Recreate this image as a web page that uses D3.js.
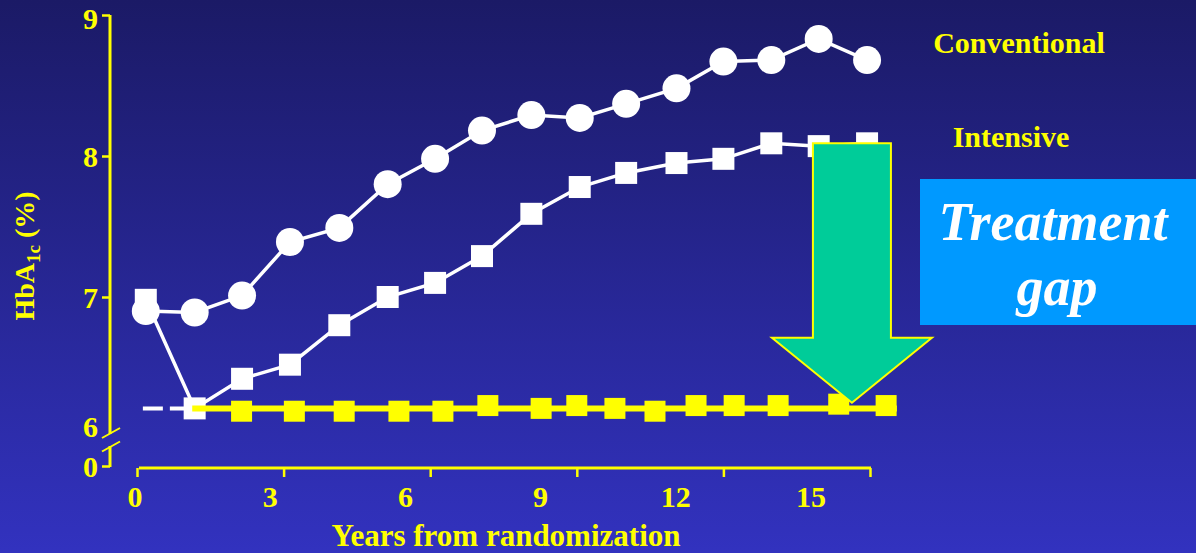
<!DOCTYPE html>
<meta charset="utf-8">

<!-- Load d3.js -->
<script src="https://d3js.org/d3.v7.min.js"></script>

<style>
  body { margin: 0; background: #1b1a68; }
  svg { display: block; }
  text { font-family: "Liberation Serif", "Times New Roman", serif; font-weight: bold; }
</style>

<!-- Create a div where the graph will take place -->
<div id="my_dataviz"></div>

<script>

    // data
    var years = [0.18, 1.18, 2.15, 3.13, 4.14, 5.13, 6.1, 7.06, 8.07, 9.06, 10.01, 11.04, 12.0, 12.98, 13.95, 14.94];
    var conventional = [6.9, 6.89, 7.01, 7.39, 7.49, 7.8, 7.98, 8.18, 8.29, 8.27, 8.37, 8.48, 8.67, 8.68, 8.83, 8.68];
    var intensive = [6.98, 6.21, 6.42, 6.52, 6.8, 7.0, 7.1, 7.29, 7.59, 7.78, 7.88, 7.95, 7.98, 8.09, 8.07, 8.09];

    // the yellow "normal" line
    var normalYears = [2.14, 3.22, 4.24, 5.36, 6.26, 7.18, 8.27, 9.0, 9.78, 10.6, 11.44, 12.22, 13.12, 14.36, 15.33];
    var normalValues = [6.19, 6.19, 6.19, 6.19, 6.19, 6.23, 6.21, 6.23, 6.21, 6.19, 6.23, 6.23, 6.23, 6.24, 6.23];
    var normalLevel = 6.21;
    var normalSpan = [1.13, 15.55];
    var leadInSpan = [0.12, 1.1];

    // axes
    var xTicks = [0, 3, 6, 9, 12, 15];
    var yTicks = [9, 8, 7, 6, 0];

    // labels / annotation
    var seriesNames = ["Conventional", "Intensive"];
    var gapLabel = ["Treatment", "gap"];
    var arrowYear = 14.63, arrowFrom = 8.09, arrowTo = 6.25;

    var width = 1196, height = 553;

    var svg = d3.select("#my_dataviz")
      .append("svg")
        .attr("width", width)
        .attr("height", height);

    // background gradient
    var grad = svg.append("defs").append("linearGradient")
        .attr("id", "bg").attr("x1", 0).attr("y1", 0).attr("x2", 0).attr("y2", 1);
    grad.append("stop").attr("offset", "0%").attr("stop-color", "#1b1a66");
    grad.append("stop").attr("offset", "100%").attr("stop-color", "#3232bf");
    svg.append("rect").attr("width", width).attr("height", height).attr("fill", "url(#bg)");

    // scales (y axis is broken between 0 and 6)
    var x = d3.scaleLinear().domain([0, 15]).range([137, 870]);
    var xLabel = d3.scaleLinear().domain([0, 15]).range([135, 811]);
    var y = d3.scaleLinear().domain([0, 6, 9]).range([466, 438, 15]);

    var yellow = "#ffff00";

    // X axis
    var xAxis = svg.append("g")
        .attr("transform", "translate(0," + 468 + ")")
        .call(d3.axisBottom(x).tickValues(xTicks).tickSize(9).tickSizeOuter(0).tickFormat(""));
    xAxis.select(".domain").remove();
    xAxis.selectAll(".tick line").attr("stroke", yellow).attr("stroke-width", 2.5);
    xAxis.append("line")
        .attr("x1", x(0) + 2).attr("x2", x(15) + 1)
        .attr("stroke", yellow).attr("stroke-width", 3);

    svg.append("g").selectAll("text")
      .data(xTicks)
      .enter().append("text")
        .attr("x", function(d) { return xLabel(d); })
        .attr("y", 507)
        .attr("text-anchor", "middle")
        .attr("fill", yellow)
        .attr("font-size", 30)
        .text(function(d) { return d; });

    svg.append("text")
        .attr("x", 506).attr("y", 546)
        .attr("text-anchor", "middle")
        .attr("fill", yellow)
        .attr("font-size", 31)
        .text("Years from randomization");

    // Y axis
    var yAxis = svg.append("g")
        .attr("transform", "translate(110,0)")
        .call(d3.axisLeft(y).tickValues(yTicks).tickSize(8).tickPadding(4));
    yAxis.select(".domain").remove();
    yAxis.selectAll(".tick line")
        .attr("stroke", yellow).attr("stroke-width", 2.5)
        .attr("display", function(d) { return d === 6 ? "none" : null; });
    yAxis.selectAll(".tick text")
        .attr("fill", yellow)
        .attr("font-size", 30)
        .attr("font-family", "Liberation Serif")
        .attr("font-weight", "bold")
        .attr("dy", function(d) { return d === 6 ? "-0.05em" : d === 9 ? "0.45em" : "0.34em"; });

    // axis line with break
    yAxis.append("line").attr("y1", y(9)).attr("y2", y(6) - 4)
        .attr("stroke", yellow).attr("stroke-width", 3);
    yAxis.append("line").attr("y1", y(6) + 8).attr("y2", y(0) + 1)
        .attr("stroke", yellow).attr("stroke-width", 3);
    [y(6) - 5, y(6) + 8.5].forEach(function(c) {
      yAxis.append("line")
          .attr("x1", -8).attr("y1", c + 5)
          .attr("x2", 10).attr("y2", c - 5)
          .attr("stroke", yellow).attr("stroke-width", 2);
    });

    // y title
    var yTitle = svg.append("text")
        .attr("transform", "translate(34,256) rotate(-90)")
        .attr("text-anchor", "middle")
        .attr("fill", yellow)
        .attr("font-size", 28);
    yTitle.append("tspan").text("HbA");
    yTitle.append("tspan").attr("font-size", 19).attr("dy", 6).text("1c");
    yTitle.append("tspan").attr("dy", -6).text(" (%)");

    // lines
    var line = d3.line()
        .x(function(d) { return x(d[0]); })
        .y(function(d) { return y(d[1]); });

    var convPts = years.map(function(d, i) { return [d, conventional[i]]; });
    var intPts = years.map(function(d, i) { return [d, intensive[i]]; });

    svg.append("path").datum(convPts)
        .attr("d", line).attr("fill", "none").attr("stroke", "white").attr("stroke-width", 3.5);
    svg.append("path").datum(intPts)
        .attr("d", line).attr("fill", "none").attr("stroke", "white").attr("stroke-width", 3.5);

    svg.append("g").selectAll("rect")
      .data(intPts)
      .enter().append("rect")
        .attr("x", function(d) { return x(d[0]) - 11; })
        .attr("y", function(d) { return y(d[1]) - 11; })
        .attr("width", 22).attr("height", 22)
        .attr("fill", "white");

    svg.append("g").selectAll("circle")
      .data(convPts)
      .enter().append("circle")
        .attr("cx", function(d) { return x(d[0]); })
        .attr("cy", function(d) { return y(d[1]); })
        .attr("r", 14)
        .attr("fill", "white");

    // dashed lead-in and normal line
    svg.append("line")
        .attr("x1", x(leadInSpan[0])).attr("x2", x(leadInSpan[1]))
        .attr("y1", y(normalLevel)).attr("y2", y(normalLevel))
        .attr("stroke", "white").attr("stroke-width", 4)
        .attr("stroke-dasharray", "20,7");

    svg.append("line")
        .attr("x1", x(normalSpan[0])).attr("x2", x(normalSpan[1]))
        .attr("y1", y(normalLevel)).attr("y2", y(normalLevel))
        .attr("stroke", yellow).attr("stroke-width", 6);

    svg.append("g").selectAll("rect")
      .data(normalYears)
      .enter().append("rect")
        .attr("x", function(d) { return x(d) - 10.5; })
        .attr("y", function(d, i) { return y(normalValues[i]) - 10.5; })
        .attr("width", 21).attr("height", 21)
        .attr("fill", yellow);

    // legend labels
    svg.append("text").attr("x", 1019).attr("y", 53)
        .attr("text-anchor", "middle").attr("fill", yellow).attr("font-size", 30)
        .text(seriesNames[0]);
    svg.append("text").attr("x", 1011).attr("y", 147)
        .attr("text-anchor", "middle").attr("fill", yellow).attr("font-size", 30)
        .text(seriesNames[1]);

    // treatment gap box
    svg.append("rect")
        .attr("x", 920).attr("y", 179)
        .attr("width", width - 920).attr("height", 146)
        .attr("fill", "#0099ff");
    svg.append("text").attr("x", 1053).attr("y", 240)
        .attr("text-anchor", "middle").attr("fill", "white")
        .attr("font-size", 54).attr("font-style", "italic")
        .text(gapLabel[0]);
    svg.append("text").attr("x", 1057).attr("y", 305)
        .attr("text-anchor", "middle").attr("fill", "white")
        .attr("font-size", 54).attr("font-style", "italic")
        .text(gapLabel[1]);

    // arrow (from the intensive end value down to the normal line)
    var arrowX = x(arrowYear), arrowTop = y(arrowFrom), arrowTip = y(arrowTo);
    var shaft = 39, head = 80, headLen = 65;
    var arrowPts = [
      [arrowX - shaft, arrowTop], [arrowX + shaft, arrowTop], [arrowX + shaft, arrowTip - headLen],
      [arrowX + head, arrowTip - headLen], [arrowX, arrowTip], [arrowX - head, arrowTip - headLen],
      [arrowX - shaft, arrowTip - headLen]
    ];
    svg.append("path")
        .attr("d", d3.line()(arrowPts) + "Z")
        .attr("fill", "#00cc99")
        .attr("stroke", yellow)
        .attr("stroke-width", 2);

</script>
